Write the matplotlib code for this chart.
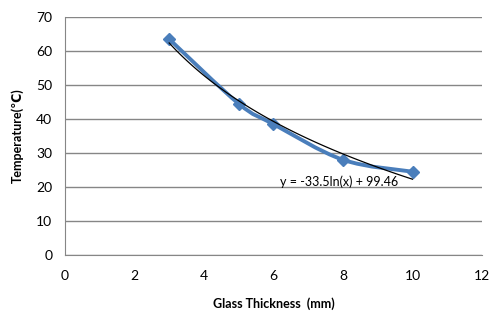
import numpy as np
import matplotlib
matplotlib.use('Agg')
import matplotlib.pyplot as plt
from matplotlib.path import Path
from matplotlib.patches import PathPatch

thickness = [3, 5, 6, 8, 10]
temperature = [63.5, 44.5, 38.5, 28.0, 24.5]
eq_label = 'y = -33.5ln(x) + 99.46'

plt.rcParams['font.family'] = ['Lato', 'DejaVu Sans']

fig = plt.figure(figsize=(4.95, 3.2), dpi=100)
ax = fig.add_axes([0.131, 0.203, 0.843, 0.744])

# smoothed line (bezier through the points, like the spreadsheet "smooth line")
pts = np.column_stack([thickness, temperature])
verts = [pts[0]]
codes = [Path.MOVETO]
for i in range(len(pts) - 1):
    p0 = pts[i - 1] if i > 0 else pts[i]
    p1, p2 = pts[i], pts[i + 1]
    p3 = pts[i + 2] if i + 2 < len(pts) else pts[i + 1]
    verts += [p1 + (p2 - p0) / 6, p2 - (p3 - p1) / 6, p2]
    codes += [Path.CURVE4] * 3
ax.add_patch(PathPatch(Path(verts, codes), fill=False, edgecolor='#4A7EBB',
                       lw=2.8, zorder=3, capstyle='round', joinstyle='round'))
ax.plot(thickness, temperature, ls='none', marker='D', ms=6, color='#4A7EBB', zorder=4)

# logarithmic trendline fitted to the data
b, a = np.polyfit(np.log(thickness), temperature, 1)
xs = np.linspace(min(thickness), max(thickness), 100)
ax.plot(xs, a + b * np.log(xs), color='black', lw=0.9, zorder=5)
ax.text(7.9, 21.6, eq_label, ha='center', va='center', fontsize=9, zorder=6)

ax.set_xlim(0, 12)
ax.set_ylim(0, 70)
ax.set_xticks(range(0, 13, 2))
ax.set_yticks(range(0, 71, 10))
ax.tick_params(length=0, labelsize=10, pad=11)
ax.tick_params(axis='y', pad=9)
ax.grid(axis='y', color='#868686', lw=1)
ax.set_axisbelow(True)
for s in ['top', 'right']:
    ax.spines[s].set_visible(False)
for s in ['left', 'bottom']:
    ax.spines[s].set_color('#868686')
ax.set_xlabel('Glass Thickness  (mm)', fontsize=9, fontweight='bold', labelpad=11)
ax.set_ylabel('Temperature(℃)', fontsize=9, fontweight='bold', labelpad=9)

fig.savefig('out.png', dpi=100)
